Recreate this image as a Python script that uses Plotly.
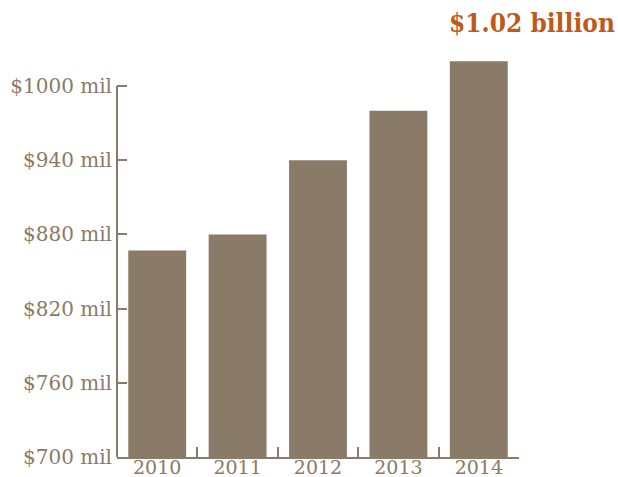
import plotly.graph_objects as go

# Annual totals, in millions of dollars
years = ["2010", "2011", "2012", "2013", "2014"]
totals = [867, 880, 940, 980, 1020]
tick_values = [700, 760, 820, 880, 940, 1000]
tick_labels = ["$700 mil", "$760 mil", "$820 mil", "$880 mil", "$940 mil", "$1000 mil"]
headline = "$1.02 billion"

BROWN = "#8a7a68"
ORANGE = "#bf5a1c"

fig = go.Figure(
    go.Bar(
        x=years,
        y=totals,
        marker=dict(color=BROWN, line=dict(width=0)),
        hoverinfo="skip",
    )
)

fig.update_layout(
    width=618,
    height=477,
    margin=dict(l=117, r=99, t=49, b=20),
    plot_bgcolor="white",
    paper_bgcolor="white",
    bargap=0.28,
    showlegend=False,
    font=dict(family="DejaVu Serif", size=19, color=BROWN),
)

fig.update_xaxes(
    type="category",
    range=[-0.5, 4.5],
    automargin=False,
    showline=True,
    linecolor=BROWN,
    linewidth=2,
    ticks="inside",
    tickson="boundaries",
    ticklen=10,
    tickwidth=2,
    tickcolor=BROWN,
    ticklabelstandoff=-8,
    showgrid=False,
    tickfont=dict(family="DejaVu Serif", size=19, color=BROWN),
)

fig.update_yaxes(
    range=[700, 1030],
    automargin=False,
    tickvals=tick_values,
    ticktext=tick_labels,
    showline=False,
    ticks="inside",
    ticklen=10,
    tickwidth=2,
    tickcolor=BROWN,
    ticklabelstandoff=4,
    showgrid=False,
    zeroline=False,
    tickfont=dict(family="DejaVu Serif", size=20, color=BROWN),
)

# Vertical axis line stops at the top tick
fig.add_shape(
    type="line",
    xref="paper", yref="y",
    x0=0, x1=0, y0=700, y1=1000,
    line=dict(color=BROWN, width=2),
)

fig.add_annotation(
    text=headline,
    xref="paper", yref="paper",
    x=1.243, y=1.064,
    xanchor="right", yanchor="middle",
    showarrow=False,
    font=dict(family="DejaVu Serif Condensed", size=26, color=ORANGE, weight="bold"),
)

fig.write_html("out.html")
